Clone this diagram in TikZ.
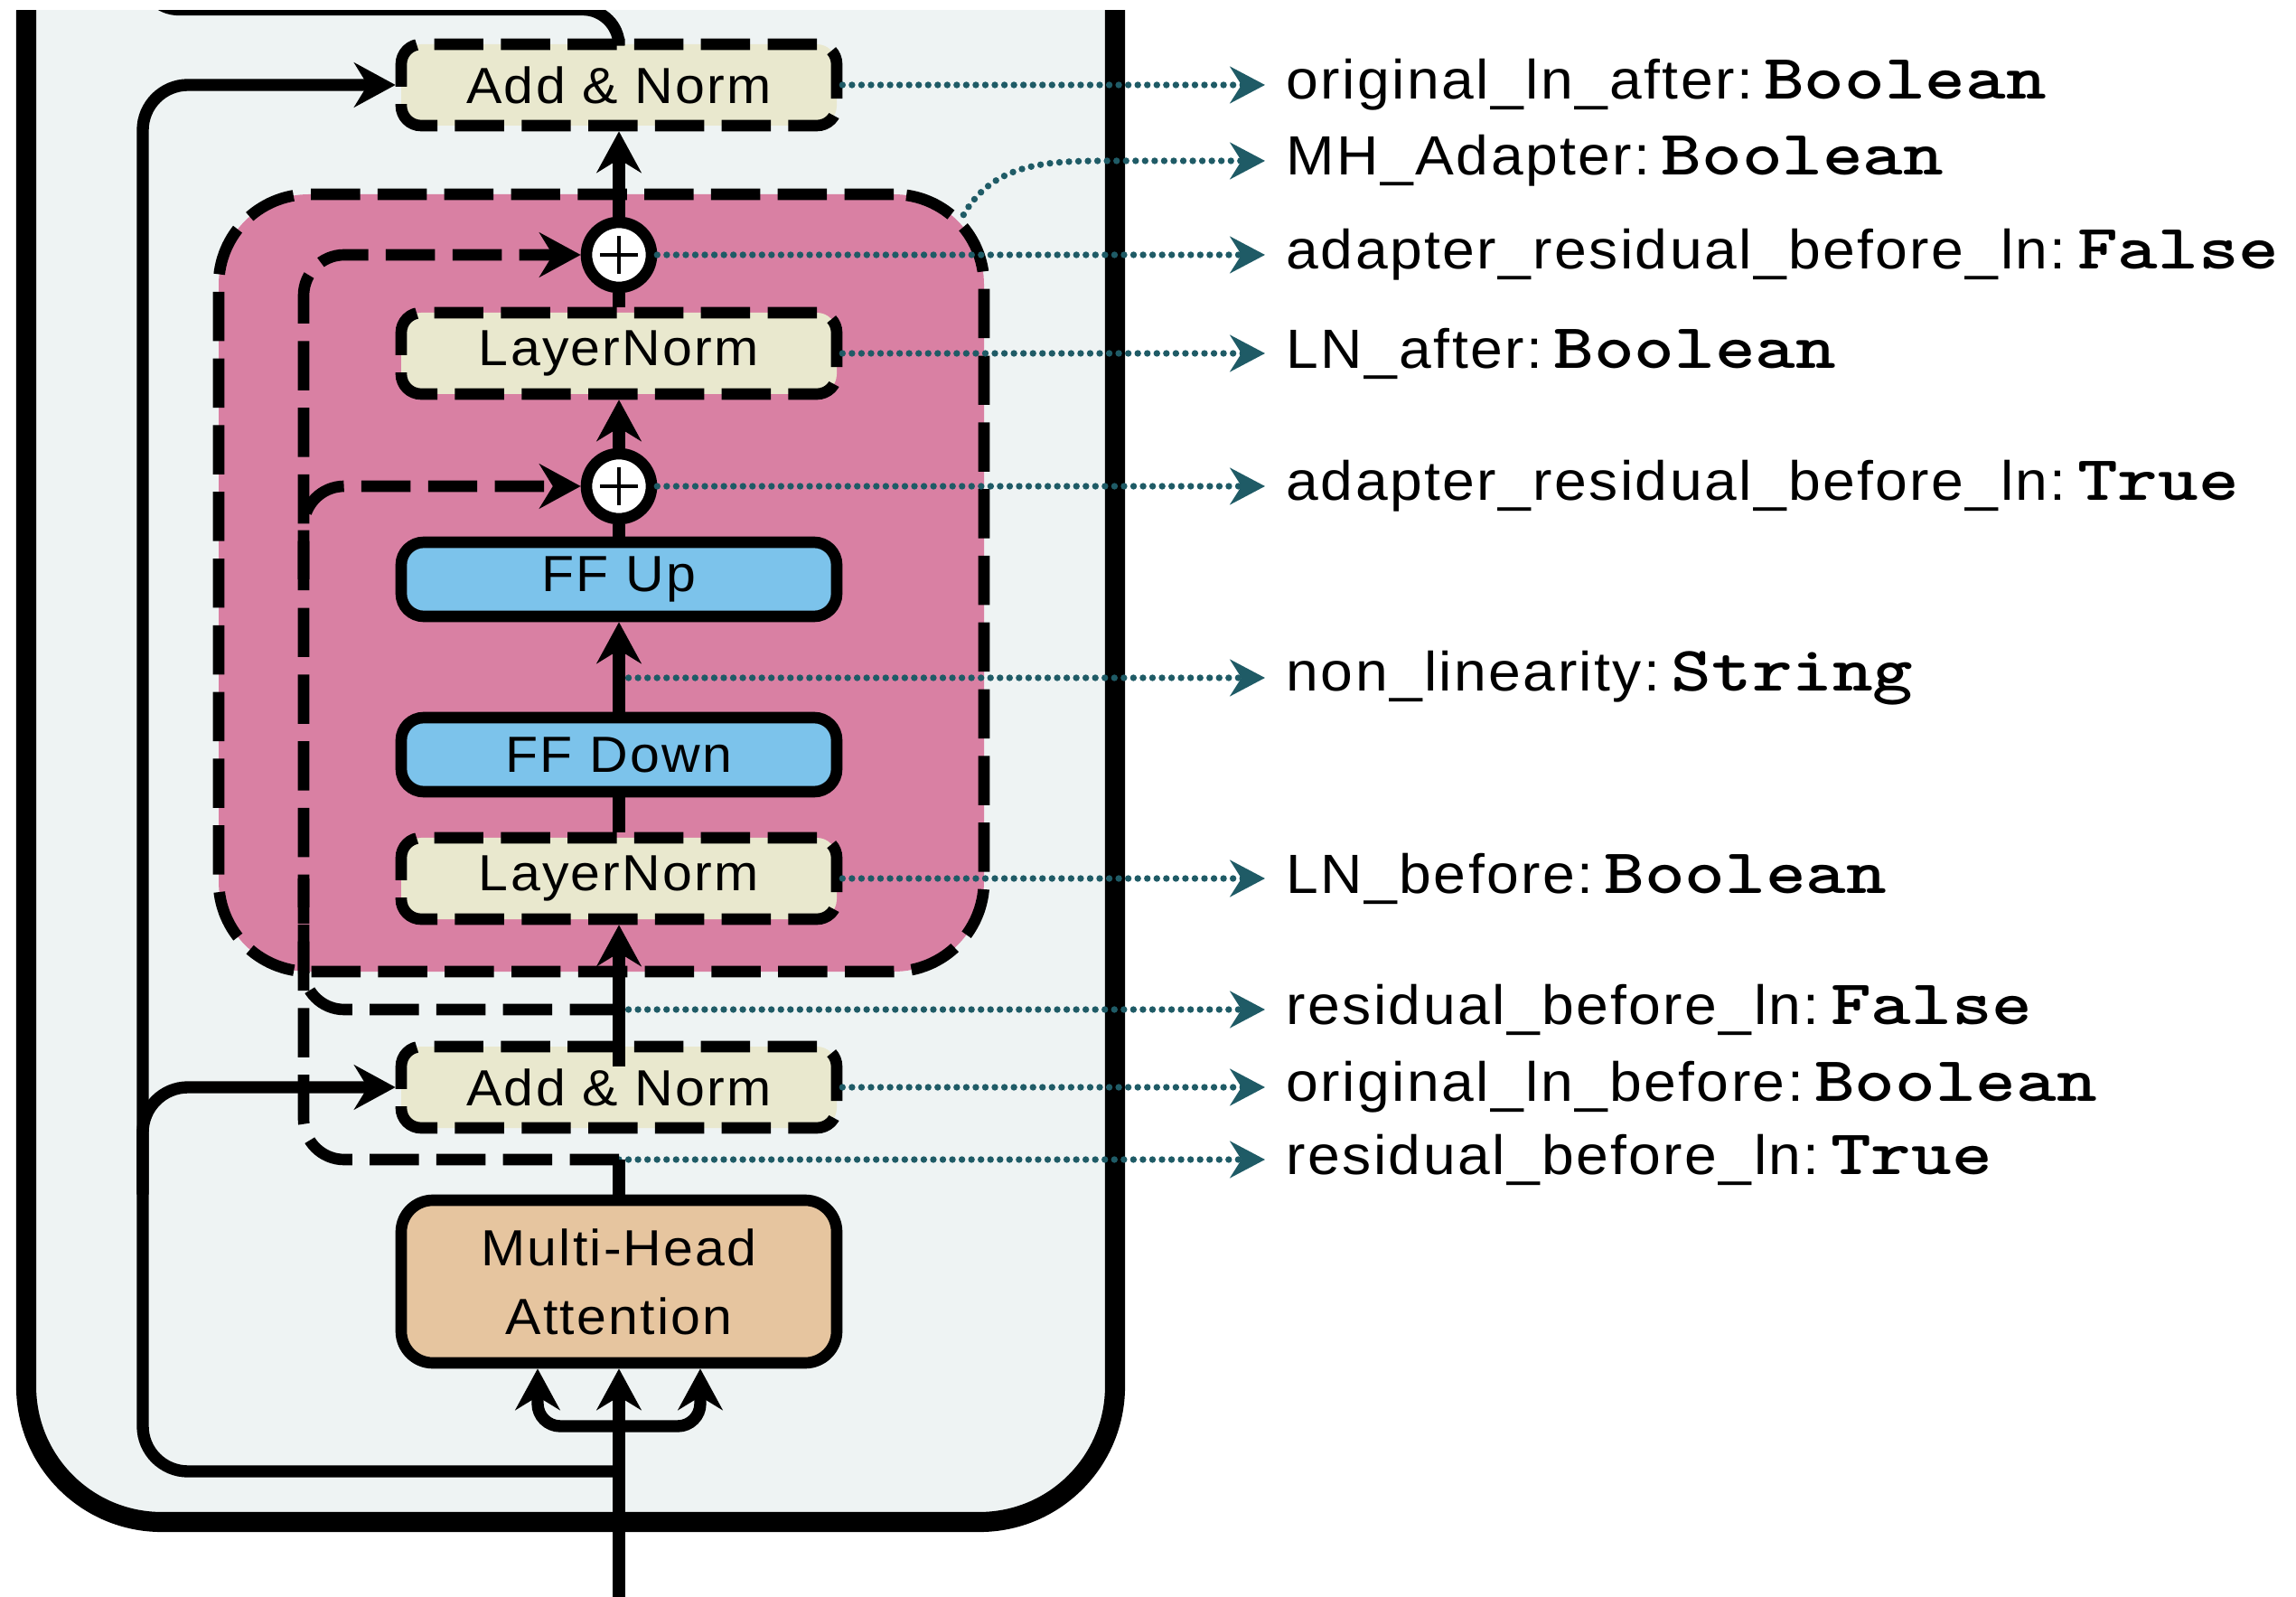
\documentclass[tikz,border=0pt]{standalone}
\usepackage{fontspec}
\setmainfont{Liberation Sans}[FakeStretch=1.05,LetterSpace=4]
\usepackage{graphicx}
\usetikzlibrary{arrows.meta}

\definecolor{blockgray}{HTML}{EEF3F3}
\definecolor{adapterpink}{HTML}{D980A3}
\definecolor{normcream}{HTML}{E9E8CE}
\definecolor{ffblue}{HTML}{7CC3EB}
\definecolor{attntan}{HTML}{E6C59F}
\definecolor{tagteal}{HTML}{1F5B66}

\newcommand{\boxfont}{\fontsize{16}{21.6}\selectfont}
\newcommand{\tagfont}{\fontsize{17.4}{20}\selectfont}
\newcommand{\typeval}[1]{\hspace{0.2em}{\fontsize{20}{22}\selectfont\ttfamily\bfseries\scalebox{1.21}[1]{#1}}}

\tikzset{
  wire/.style={line width=3.8pt},
  flow/.style={wire, -{Stealth[length=13pt,width=14pt]}},
  skipwire/.style={line width=3.6pt, dash pattern=on 15.5pt off 5.5pt},
  skip/.style={skipwire, -{Stealth[length=13pt,width=14pt]}},
  block/.style={draw, fill=blockgray, line width=6.3pt, rounded corners=1.5cm},
  adapterbox/.style={draw, fill=adapterpink, line width=3.6pt, dash pattern=on 15.5pt off 5.5pt,
    rounded corners=1cm, minimum width=8.47cm, minimum height=8.6cm, inner sep=0pt},
  normbox/.style={draw, fill=normcream, line width=3.6pt, dash pattern=on 15.5pt off 5.5pt,
    rounded corners=0.22cm, minimum width=4.82cm, minimum height=0.9cm, inner sep=0pt, font=\boxfont},
  ffbox/.style={draw, fill=ffblue, line width=3.6pt, rounded corners=0.25cm,
    minimum width=4.82cm, minimum height=0.82cm, inner sep=0pt, font=\boxfont},
  attnbox/.style={draw, fill=attntan, line width=3.6pt, rounded corners=0.35cm,
    minimum width=4.82cm, minimum height=1.8cm, inner sep=0pt, align=center, font=\boxfont},
  addcircle/.style={draw, circle, fill=white, line width=3.6pt, minimum size=0.72cm, inner sep=0pt,
    path picture={\draw[line width=1.4pt]
      ([xshift=-2.1mm]path picture bounding box.center) -- ([xshift=2.1mm]path picture bounding box.center)
      ([yshift=-2.1mm]path picture bounding box.center) -- ([yshift=2.1mm]path picture bounding box.center);}},
  tagline/.style={draw=tagteal, line width=2.1pt, line cap=round, dash pattern=on 0pt off 3pt,
    -{Stealth[length=11pt,width=11.5pt]}},
  taglabel/.style={anchor=west, inner xsep=0.23cm, inner ysep=0pt, font=\tagfont},
}

\begin{document}
\begin{tikzpicture}
  \useasboundingbox (0,0) rectangle (25.41,17.66);
  \clip (0,0) rectangle (25.41,17.54);

  \draw[block] (0.29,0.82) rectangle (12.34,19);
  \node[adapterbox] (adapter) at (6.655,11.21) {};

  \node[normbox] (addA) at (6.85,16.72) {Add \& Norm};
  \node[addcircle] (plusA) at (6.85,14.84) {};
  \node[normbox] (ln2) at (6.85,13.75) {LayerNorm};
  \node[addcircle] (plusB) at (6.85,12.28) {};
  \node[ffbox] (ffup) at (6.85,11.25) {FF Up};
  \node[ffbox] (ffdown) at (6.85,9.31) {FF Down};
  \node[normbox] (ln1) at (6.85,7.94) {LayerNorm};
  \node[normbox] (addB) at (6.85,5.63) {Add \& Norm};
  \node[attnbox] (mha) at (6.85,3.48) {Multi-Head\\Attention};

  \coordinate (input) at (6.85,-0.3);
  \coordinate (split) at (6.85,1.88);
  \coordinate (loop) at (6.85,1.38);
  \coordinate (resT) at (6.85,4.83);
  \coordinate (resF) at (6.85,6.49);
  \coordinate (actfn) at (6.85,10.16);
  \coordinate (skipcol) at (3.36,0);
  \coordinate (loopcol) at (1.58,0);
  \coordinate (nextturn) at (1.58,17.555);
  \coordinate (next) at (1.58,18.6);
  \coordinate (tagx) at (14.0,0);
  \coordinate (mhbend) at (12.3,15.88);

  \node[taglabel] (tagA) at (addA.east -| tagx) {original\_ln\_after:\typeval{Boolean}};
  \node[taglabel] (tagB) at (mhbend -| tagx) {MH\_Adapter:\typeval{Boolean}};
  \node[taglabel] (tagC) at (plusA.east -| tagx) {adapter\_residual\_before\_ln:\typeval{False}};
  \node[taglabel] (tagD) at (ln2.east -| tagx) {LN\_after:\typeval{Boolean}};
  \node[taglabel] (tagE) at (plusB.east -| tagx) {adapter\_residual\_before\_ln:\typeval{True}};
  \node[taglabel] (tagF) at (actfn -| tagx) {non\_linearity:\typeval{String}};
  \node[taglabel] (tagG) at (ln1.east -| tagx) {LN\_before:\typeval{Boolean}};
  \node[taglabel] (tagH) at (resF -| tagx) {residual\_before\_ln:\typeval{False}};
  \node[taglabel] (tagI) at (addB.east -| tagx) {original\_ln\_before:\typeval{Boolean}};
  \node[taglabel] (tagJ) at (resT -| tagx) {residual\_before\_ln:\typeval{True}};

  \draw[tagline] (addA.east) -- (tagA.west);
  \draw[tagline] ([shift={(-0.29,-0.29)}]adapter.north east) to[out=60,in=180] (mhbend) -- (tagB.west);
  \draw[tagline] (plusA.east) -- (tagC.west);
  \draw[tagline] (ln2.east) -- (tagD.west);
  \draw[tagline] (plusB.east) -- (tagE.west);
  \draw[tagline] (actfn) -- (tagF.west);
  \draw[tagline] (ln1.east) -- (tagG.west);
  \draw[tagline] (resF) -- (tagH.west);
  \draw[tagline] (addB.east) -- (tagI.west);
  \draw[tagline] (resT) -- (tagJ.west);

  \draw[skip, rounded corners=0.45cm] (resT) -| (skipcol |- plusA) -- (plusA);
  \draw[skipwire, rounded corners=0.45cm] (resF) -| (skipcol |- ln1);
  \draw[skip, rounded corners=0.45cm] (skipcol |- ffup) |- (plusB);

  \draw[flow] (input) -- (mha);
  \draw[flow, rounded corners=0.25cm] (split) -| ([xshift=-0.9cm]mha.south);
  \draw[flow, rounded corners=0.25cm] (split) -| ([xshift=0.9cm]mha.south);
  \draw[flow, rounded corners=0.5cm] (loop) -- (loop -| loopcol) -- (addA -| loopcol) -- (addA);
  \draw[flow, rounded corners=0.5cm] (loopcol |- mha.north) |- (addB);
  \draw[wire] (mha) -- (resT);
  \draw[flow] ([yshift=2.3mm]addB.center) -- (ln1);
  \draw[wire] (ln1) -- (ffdown);
  \draw[flow] (ffdown) -- (ffup);
  \draw[wire] (ffup) -- (plusB);
  \draw[flow] (plusB) -- (ln2);
  \draw[wire] (ln2) -- (plusA);
  \draw[flow] (plusA) -- (addA);
  \draw[wire, rounded corners=0.4cm] (addA) |- (nextturn) -- (next);
\end{tikzpicture}
\end{document}
